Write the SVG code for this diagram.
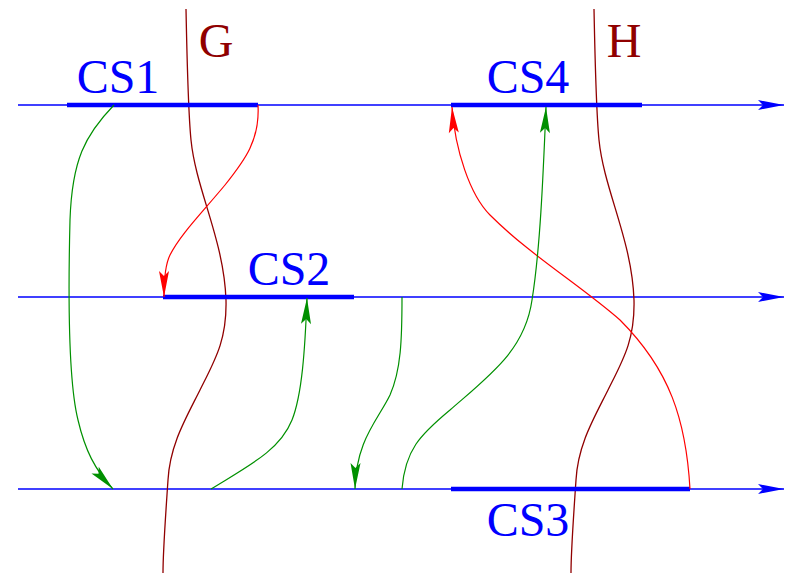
<svg xmlns="http://www.w3.org/2000/svg" width="785" height="574" viewBox="0 0 785 574">
<style>
.axis{stroke:#0000ff;stroke-width:1.3;fill:none}
.seg{stroke:#0000ff;stroke-width:4.5;fill:none}
.lbl{font-family:"Liberation Serif","Times New Roman",serif;font-size:48px;fill:#0000ff;text-anchor:middle}
.dl{font-family:"Liberation Serif","Times New Roman",serif;font-size:48px;fill:#900000;text-anchor:middle}
.dr{stroke:#900000;stroke-width:1.3;fill:none}
.red{stroke:#ff0000;stroke-width:1.2;fill:none}
.grn{stroke:#009000;stroke-width:1.2;fill:none}
</style>
<defs>
<marker id="ab" markerUnits="userSpaceOnUse" viewBox="-27 -6 28 12" refX="0" refY="0" markerWidth="28" markerHeight="12" orient="auto" overflow="visible">
<path d="M0,0 L-26,-5 L-21,0 L-26,5 Z" fill="#0000ff"/>
</marker>
<marker id="ar" markerUnits="userSpaceOnUse" viewBox="-27 -6 28 12" refX="0" refY="0" markerWidth="28" markerHeight="12" orient="auto" overflow="visible">
<path d="M0,0 L-26,-5 L-21,0 L-26,5 Z" fill="#ff0000"/>
</marker>
<marker id="ag" markerUnits="userSpaceOnUse" viewBox="-27 -6 28 12" refX="0" refY="0" markerWidth="28" markerHeight="12" orient="auto" overflow="visible">
<path d="M0,0 L-26,-5 L-21,0 L-26,5 Z" fill="#009000"/>
</marker>
</defs>
<g id="axes">
<line class="axis" x1="18" y1="105" x2="784" y2="105" marker-end="url(#ab)"/>
<line class="axis" x1="18" y1="297" x2="784" y2="297" marker-end="url(#ab)"/>
<line class="axis" x1="18" y1="489" x2="784" y2="489" marker-end="url(#ab)"/>
</g>
<g id="G">
<path class="dr" d="M186,9 C187,60 188,110 191,140 C196,190 224,240 226,300 C227,340 215,360 200,390 C185,420 170,445 168,480 C166,510 163,550 163,573"/>
<text class="dl" x="216" y="57">G</text>
</g>
<g id="H">
<path class="dr" transform="translate(408,0)" d="M186,9 C187,60 188,110 191,140 C196,190 224,240 226,300 C227,340 215,360 200,390 C185,420 170,445 168,480 C166,510 163,550 163,573"/>
<text class="dl" x="624" y="57">H</text>
</g>
<g id="CS1">
<line class="seg" x1="67" y1="105" x2="258" y2="105"/>
<text class="lbl" x="118" y="93">CS1</text>
</g>
<g id="CS2">
<line class="seg" x1="163" y1="297" x2="354" y2="297"/>
<text class="lbl" x="289" y="285">CS2</text>
</g>
<g id="CS3">
<line class="seg" x1="451" y1="489" x2="690" y2="489"/>
<text class="lbl" x="528" y="536">CS3</text>
</g>
<g id="CS4">
<line class="seg" x1="451" y1="105" x2="642" y2="105"/>
<text class="lbl" x="528" y="93">CS4</text>
</g>
<g id="connectors">
<path class="red" d="M258,105 C260,140 245,160 225,185 C200,215 180,235 170,255 C165,265 164,280 164,297" marker-end="url(#ar)"/>
<path class="red" d="M690,489 C686,420 670,370 620,320 C580,285 530,255 490,215 C470,195 455,150 452,107" marker-end="url(#ar)"/>
<path class="grn" d="M114,105 C85,135 72,160 70,220 C68,300 68,380 78,420 C85,450 95,470 113,489" marker-end="url(#ag)"/>
<path class="grn" d="M211,489 C250,465 280,450 292,420 C302,395 305,350 307,298" marker-end="url(#ag)"/>
<path class="grn" d="M402,297 C402,340 401,370 390,395 C378,420 356,440 355,489" marker-end="url(#ag)"/>
<path class="grn" d="M402,489 C405,450 420,435 450,410 C490,375 525,350 532,300 C540,250 543,180 546,107" marker-end="url(#ag)"/>
</g>
</svg>
